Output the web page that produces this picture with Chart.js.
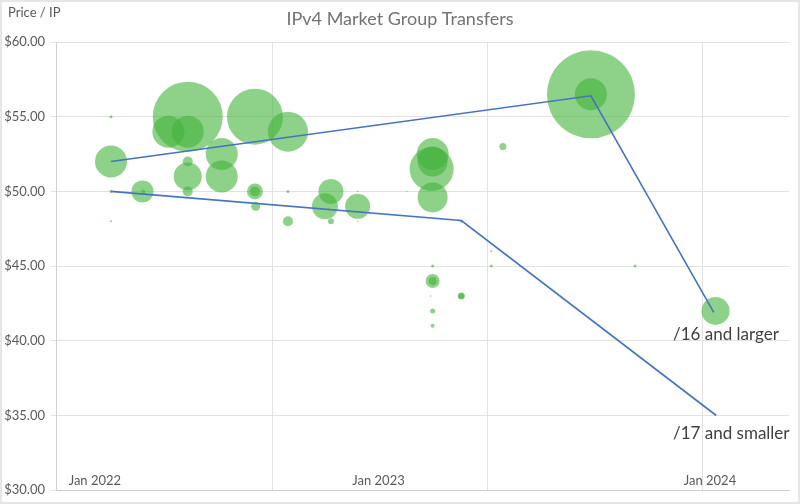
<!DOCTYPE html>
<html><head><meta charset="utf-8">
<script src="https://cdn.jsdelivr.net/npm/chart.js"></script>
<style>html,body{margin:0;padding:0;background:#fff}canvas{display:block}</style>
</head><body>
<canvas id="c" width="800" height="504"></canvas>
<script>
const chartTitle = 'IPv4 Market Group Transfers';
const yAxisTitle = 'Price / IP';

// x = months after Jan 2022, y = price per IP, r = bubble radius (px)
const bubbleMonths = [0, 0, 0, 0, 1.25, 1.28, 3.05, 2.28, 3.05, 3.05, 3.05, 3.05, 4.4, 4.4, 5.72, 7.03, 5.72, 5.72, 5.75, 7.03, 7.03, 8.74, 8.5, 8.74, 9.8, 9.8, 9.8, 11.75, 12.78, 12.78, 12.74, 12.78, 12.78, 12.78, 12.78, 12.7, 12.78, 12.78, 13.92, 13.92, 13.92, 15.11, 15.11, 15.57, 19.07, 19.07, 20.82, 24.02];
const bubblePrices = [55, 52, 50, 48, 50, 50, 55, 54, 54, 52, 51, 50, 52.5, 51, 55, 54, 50, 50, 49, 50, 48, 50, 49, 48, 49, 50, 48, 50, 52.5, 52, 51.5, 49.6, 45, 44, 44, 43, 42, 41, 43, 43, 48, 46, 45, 53, 56.5, 56.5, 45, 42];
const bubbleSizes  = [1.5, 16, 1.5, 1, 11, 2, 35, 16, 16, 5, 14, 5, 16, 16, 28, 20, 8, 5, 4.5, 1.5, 5, 12.5, 13, 3, 12.5, 0.7, 0.7, 0.7, 16, 15, 22, 15, 1.5, 7, 4, 0.8, 2.5, 2, 3.5, 3, 1.5, 1, 1.5, 3.5, 44, 16, 1.5, 14];

const largeLineMonths = [0, 19.07, 23.95];
const largeLinePrices = [52, 56.4, 41.9];
const smallLineMonths = [0, 13.92, 24.05];
const smallLinePrices = [50, 48.05, 35];

const seriesLabels = ['/16 and larger', '/17 and smaller'];
const seriesLabelMonths = [22.33, 22.33];
const seriesLabelPrices = [40.06, 33.45];

const xTickLabels = ['Jan 2022', 'Jan 2023', 'Jan 2024'];
const xTickMonths = [-0.64, 10.63, 23.8];
const xGridMonths = [6.4, 14.95, 23.52];
const yTicks = [30, 35, 40, 45, 50, 55, 60];

const FONT = 'Lato, "Open Sans", "DejaVu Sans", sans-serif';
Chart.defaults.font.family = FONT;

const extras = {
  id: 'extras',
  beforeDraw(chart) {
    const ctx = chart.ctx;
    ctx.save();
    ctx.fillStyle = '#ffffff';
    ctx.fillRect(0, 0, chart.width, chart.height);
    ctx.strokeStyle = '#e6e6e6';
    ctx.lineWidth = 3;
    ctx.strokeRect(0.5, 0.5, chart.width - 1, chart.height - 1);
    ctx.restore();
  },
  afterDraw(chart) {
    const ctx = chart.ctx;
    const xs = chart.scales.x, ys = chart.scales.y;
    ctx.save();
    ctx.textBaseline = 'alphabetic';
    // title
    ctx.fillStyle = '#737373';
    ctx.font = '18px ' + FONT;
    ctx.textAlign = 'center';
    ctx.fillText(chartTitle, 400, 25);
    // y axis title
    ctx.fillStyle = '#595959';
    ctx.font = '13px ' + FONT;
    ctx.textAlign = 'left';
    ctx.fillText(yAxisTitle, 8, 17);
    // x tick labels (drawn inside plot area, like the original)
    ctx.font = '13px ' + FONT;
    ctx.textAlign = 'center';
    xTickLabels.forEach((t, i) => {
      ctx.fillText(t, xs.getPixelForValue(xTickMonths[i]), chart.chartArea.bottom - 5);
    });
    // series labels
    ctx.fillStyle = '#404040';
    ctx.font = '17px ' + FONT;
    ctx.textAlign = 'left';
    seriesLabels.forEach((t, i) => {
      ctx.fillText(t, xs.getPixelForValue(seriesLabelMonths[i]), ys.getPixelForValue(seriesLabelPrices[i]));
    });
    ctx.restore();
  }
};

new Chart(document.getElementById('c'), {
  type: 'bubble',
  data: {
    datasets: [
      {
        type: 'line',
        data: largeLineMonths.map((m, i) => ({x: m, y: largeLinePrices[i]})),
        borderColor: '#4472C4', borderWidth: 1.6, pointRadius: 0, fill: false, tension: 0, order: 0
      },
      {
        type: 'line',
        data: smallLineMonths.map((m, i) => ({x: m, y: smallLinePrices[i]})),
        borderColor: '#4472C4', borderWidth: 1.6, pointRadius: 0, fill: false, tension: 0, order: 0
      },
      {
        type: 'bubble',
        data: bubbleMonths.map((m, i) => ({x: m, y: bubblePrices[i], r: bubbleSizes[i]})),
        backgroundColor: 'rgba(67,178,58,0.6)', borderWidth: 0, hoverRadius: 0, order: 1
      }
    ]
  },
  options: {
    responsive: false,
    animation: false,
    devicePixelRatio: 1,
    layout: { autoPadding: false, padding: { left: 0, right: 11, top: 42, bottom: 13 } },
    plugins: { legend: { display: false }, tooltip: { enabled: false }, title: { display: false } },
    scales: {
      x: {
        type: 'linear', min: -2.185, max: 26.94,
        afterBuildTicks: s => { s.ticks = xGridMonths.map(v => ({value: v})); },
        ticks: { display: false },
        grid: { color: '#e2e2e2', drawTicks: false },
        border: { color: '#d0d0d0' },
        afterFit: s => { s.height = 0; }
      },
      y: {
        type: 'linear', min: 30, max: 60,
        afterBuildTicks: s => { s.ticks = yTicks.map(v => ({value: v})); },
        ticks: { callback: v => '$' + Number(v).toFixed(2), color: '#595959', font: { size: 13 }, padding: 6 },
        grid: { color: '#e2e2e2', tickLength: 5 },
        border: { color: '#d0d0d0' },
        afterFit: s => { s.width = 56; }
      }
    }
  },
  plugins: [extras]
});
</script>
</body></html>
